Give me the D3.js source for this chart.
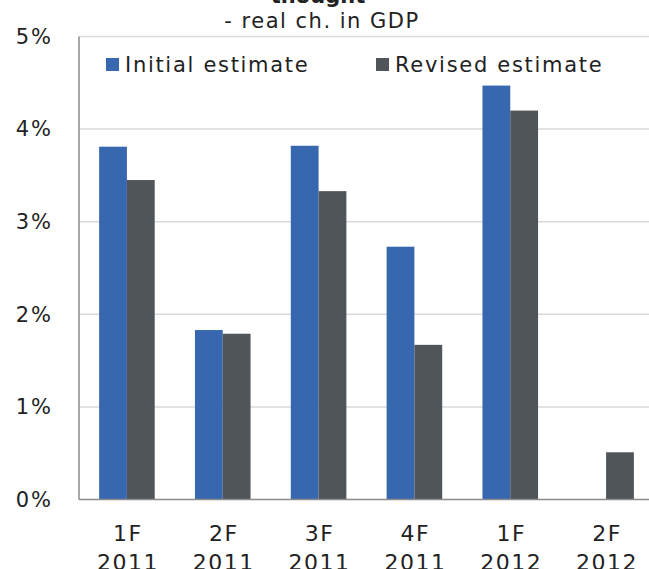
<!DOCTYPE html>
<html>
<head>
<meta charset="utf-8">
<script src="https://cdn.jsdelivr.net/npm/d3@7"></script>
<style>
  html, body { margin: 0; padding: 0; background: #fff; overflow: hidden; }
  svg { display: block; font-family: Verdana, "DejaVu Sans", sans-serif; }
</style>
</head>
<body>
<svg id="chart" width="649" height="569"></svg>
<script>
// Quarterly GDP growth, initial vs revised estimate
const quarters = ["1F", "2F", "3F", "4F", "1F", "2F"];
const years = ["2011", "2011", "2011", "2011", "2012", "2012"];
const initialEstimate = [3.81, 1.83, 3.82, 2.73, 4.47, null];
const revisedEstimate = [3.45, 1.79, 3.33, 1.67, 4.20, 0.51];
const seriesNames = ["Initial estimate", "Revised estimate"];
const yTicks = [0, 1, 2, 3, 4, 5];

const colors = ["#3767AE", "#50555A"];
const textColor = "#222";

const svg = d3.select("#chart");
const W = 649, H = 569;
const plot = { left: 79, right: 654, top: 36.5, bottom: 499.5 };

const keys = quarters.map((q, i) => i);
const x = d3.scaleBand().domain(keys).range([plot.left, plot.right])
  .paddingInner(0.42).paddingOuter(0.21);
const xs = d3.scaleBand().domain([0, 1]).range([0, x.bandwidth()]);
const y = d3.scaleLinear().domain([0, 5]).range([plot.bottom, plot.top]);

// gridlines
svg.append("g").selectAll("line")
  .data(yTicks.filter(t => t > 0))
  .join("line")
  .attr("x1", plot.left).attr("x2", W)
  .attr("y1", d => y(d)).attr("y2", d => y(d))
  .attr("stroke", "#D9D9D9").attr("stroke-width", 1.5);

// y-axis labels
const yAxis = d3.axisLeft(y).tickValues(yTicks).tickFormat(d => d + "%").tickSize(0).tickPadding(0);
const gy = svg.append("g").attr("transform", `translate(53,0)`).call(yAxis);
gy.select(".domain").remove();
gy.selectAll("text").attr("font-size", 21).attr("letter-spacing", 2).attr("fill", textColor)
  .attr("font-family", "Verdana, 'DejaVu Sans', sans-serif");

// bars
const series = [initialEstimate, revisedEstimate];
series.forEach((vals, s) => {
  svg.append("g").selectAll("rect")
    .data(vals.map((v, i) => ({ i, v })).filter(d => d.v != null))
    .join("rect")
    .attr("x", d => x(d.i) + xs(s))
    .attr("width", xs.bandwidth())
    .attr("y", d => y(d.v))
    .attr("height", d => y(0) - y(d.v))
    .attr("fill", colors[s]);
});

// axis lines
svg.append("line").attr("x1", plot.left).attr("x2", plot.left)
  .attr("y1", plot.top).attr("y2", plot.bottom)
  .attr("stroke", "#8C8C8C").attr("stroke-width", 1.5);
svg.append("line").attr("x1", plot.left).attr("x2", W)
  .attr("y1", y(0)).attr("y2", y(0))
  .attr("stroke", "#8C8C8C").attr("stroke-width", 1.5);

// category labels: quarter on the first line, year below
const xl = svg.append("g");
keys.forEach(i => {
  const cx = x(i) + x.bandwidth() / 2 + 1;
  const t = xl.append("text").attr("x", cx).attr("y", 541)
    .attr("text-anchor", "middle").attr("font-size", 22).attr("letter-spacing", 1.5)
    .attr("fill", textColor);
  t.append("tspan").attr("x", cx).text(quarters[i]);
  t.append("tspan").attr("x", cx).attr("dy", 29).text(years[i]);
});

// legend
const legendPos = [106, 376];
seriesNames.forEach((name, s) => {
  const g = svg.append("g").attr("transform", `translate(${legendPos[s]},0)`);
  g.append("rect").attr("x", 0).attr("y", 58).attr("width", 13).attr("height", 13).attr("fill", colors[s]);
  g.append("text").attr("x", 19).attr("y", 72).attr("font-size", 21).attr("letter-spacing", 1.7)
    .attr("fill", textColor).text(name);
});

// titles
svg.append("text").attr("x", 318).attr("y", 3).attr("text-anchor", "middle")
  .attr("font-size", 21).attr("font-weight", "bold").attr("fill", textColor).text("thought");
svg.append("text").attr("x", 322).attr("y", 28).attr("text-anchor", "middle")
  .attr("font-size", 21).attr("letter-spacing", 1.5).attr("fill", textColor).text("- real ch. in GDP");
</script>
</body>
</html>
